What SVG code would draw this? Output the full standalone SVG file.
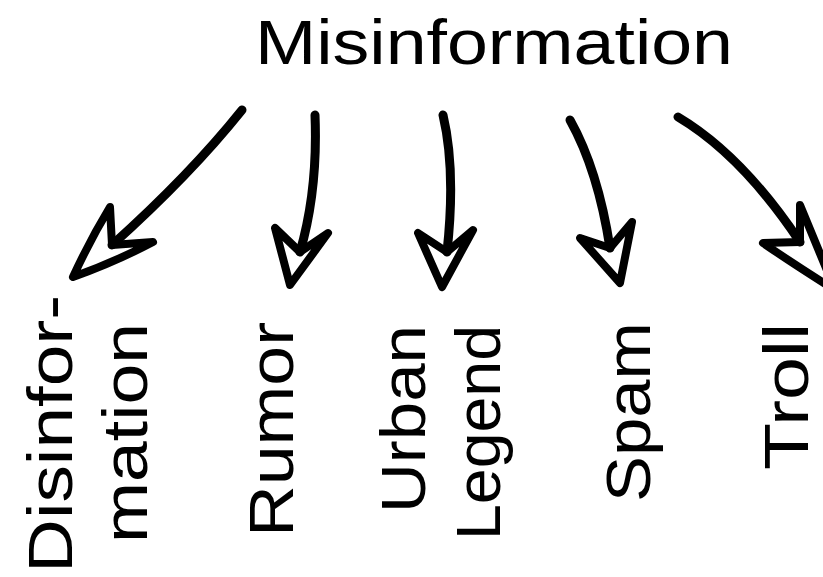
<svg xmlns="http://www.w3.org/2000/svg" width="823" height="577" viewBox="0 0 823 577">
<style>
  .t{font-family:"Liberation Sans","DejaVu Sans",sans-serif;font-size:63px;fill:#000;}
  .shaft{fill:none;stroke:#000;stroke-width:9;stroke-linecap:round;stroke-linejoin:round;}
  .head{fill:none;stroke:#000;stroke-width:8;stroke-linecap:round;stroke-linejoin:round;}
</style>
<rect width="823" height="577" fill="#fff"/>
<g id="misinformation">
  <text class="t" x="255" y="64" textLength="478" lengthAdjust="spacingAndGlyphs">Misinformation</text>
</g>
<g id="connectors">
  <path class="shaft" d="M242,110 Q190,175 112,245"/>
  <path class="head" d="M110,207 Q90,240 73,277 Q115,262 153,242 L112,245 Z"/>
  <path class="shaft" d="M315,115 Q318,190 300,252"/>
  <path class="head" d="M275,228 L290,285 L328,233 L300,252 Z"/>
  <path class="shaft" d="M443,115 Q456,170 447,252"/>
  <path class="head" d="M418,233 L442,287 L473,230 L447,252 Z"/>
  <path class="shaft" d="M570,120 Q598,170 610,248"/>
  <path class="head" d="M580,238 L620,283 L632,222 L610,248 Z"/>
  <path class="shaft" d="M678,117 Q742,155 800,242"/>
  <path class="head" d="M800,205 L835,290 Q795,265 763,243 L800,242 Z"/>
</g>
<g id="disinformation">
  <text class="t" transform="translate(72,573) rotate(-90)" textLength="278" lengthAdjust="spacingAndGlyphs">Disinfor-</text>
  <text class="t" transform="translate(147,543) rotate(-90)" textLength="220" lengthAdjust="spacingAndGlyphs">mation</text>
</g>
<g id="rumor">
  <text class="t" transform="translate(293,537) rotate(-90)" textLength="215" lengthAdjust="spacingAndGlyphs">Rumor</text>
</g>
<g id="urban-legend">
  <text class="t" transform="translate(425,513) rotate(-90)" textLength="188" lengthAdjust="spacingAndGlyphs">Urban</text>
  <text class="t" transform="translate(500,540) rotate(-90)" textLength="215" lengthAdjust="spacingAndGlyphs">Legend</text>
</g>
<g id="spam">
  <text class="t" transform="translate(650,502) rotate(-90)" textLength="180" lengthAdjust="spacingAndGlyphs">Spam</text>
</g>
<g id="troll">
  <text class="t" transform="translate(808,470) rotate(-90)" textLength="147" lengthAdjust="spacingAndGlyphs">Troll</text>
</g>
</svg>
